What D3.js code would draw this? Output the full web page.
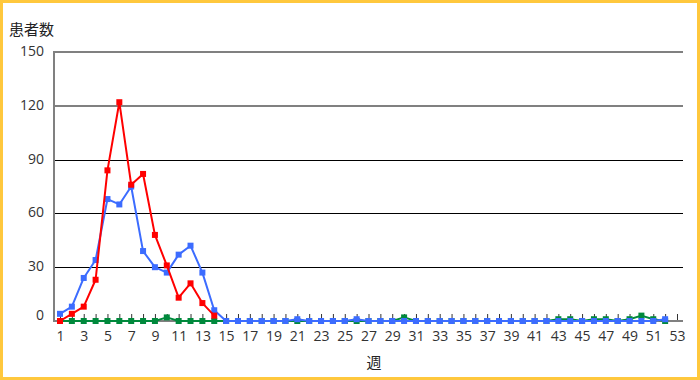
<!DOCTYPE html>
<html>
<head>
<meta charset="utf-8">
<script src="https://cdn.jsdelivr.net/npm/d3@7"></script>
<style>
	body { margin: 0; background: #fff; }
	text { font-family: "Open Sans", "Noto Sans CJK JP", sans-serif; fill: #333; }
	.jp { font-family: "Noto Sans CJK JP", sans-serif; font-size: 15px; fill: #222; }
</style>
</head>
<body>
<div id="chart"></div>
<script>

// Weeks (categories) and y-axis ticks.
const weeks = d3.range(1, 54);
const yTicks = [0, 30, 60, 90, 120, 150];

// Patients per week.
const redValues = [0, 4, 8, 23, 84, 122, 76, 82, 48, 31, 13, 21, 10, 3];
const blueValues = [4, 8, 24, 34, 68, 65, 75, 39, 30, 27, 37, 42, 27, 6,
	0, 0, 0, 0, 0, 0, 1, 0, 0, 0, 0, 1, 0, 0, 0, 0,
	0, 0, 0, 0, 0, 0, 0, 0, 0, 0,
	0, 0, 0, 0, 0, 0, 0, 0, 0, 0, 0, 1];
const greenValues = [0, 0, 0, 0, 0, 0, 0, 0, 0, 2, 0, 0, 0, 0,
	0, 0, 0, 0, 0, 0, 0, 0, 0, 0, 0, 0, 0, 0, 0, 2,
	0, 0, 0, 0, 0, 0, 0, 0, 0, 0,
	0, 0, 1, 1, 0, 1, 1, 0, 1, 3, 1, 0];

// Drawing order: green at the bottom, red on top.
const series = [
	{ name: "green", color: "#00893c", values: greenValues },
	{ name: "blue", color: "#3c6cff", values: blueValues },
	{ name: "red", color: "#ff0000", values: redValues }
];

const W = 700, H = 380;
const plot = { left: 54, right: 683, top: 52, bottom: 321 };

let svg = d3.select("#chart").append("svg")
	.attr("width", W)
	.attr("height", H);

// Yellow frame
svg.append("rect")
	.attr("x", 1.5).attr("y", 1.5)
	.attr("width", W - 3).attr("height", H - 3)
	.attr("fill", "#fff")
	.attr("stroke", "#ffc83d")
	.attr("stroke-width", 3);

// Scales
let x = d3.scalePoint()
	.domain(weeks)
	.range([60, 677]);

let y = d3.scaleLinear()
	.domain([0, 150])
	.range([plot.bottom, plot.top]);

// Horizontal grid lines (top two look soft grey in the original)
svg.append("g")
	.selectAll("line")
	.data(yTicks.filter(d => d > 0))
	.join("line")
	.attr("x1", plot.left).attr("x2", plot.right)
	.attr("y1", d => d >= 120 ? Math.round(y(d)) : Math.round(y(d)) + 0.5)
	.attr("y2", d => d >= 120 ? Math.round(y(d)) : Math.round(y(d)) + 0.5)
	.attr("stroke", d => d >= 120 ? "#808080" : "#000")
	.attr("stroke-width", d => d >= 120 ? 2 : 1);

// y tick labels
svg.append("g")
	.selectAll("text")
	.data(yTicks)
	.join("text")
	.attr("x", 44)
	.attr("y", d => Math.min(Math.max(y(d) - 1, 46), 315))
	.attr("dy", "0.35em")
	.attr("text-anchor", "end")
	.style("font-size", "14px")
	.text(d => d);

// x-axis: ticks at every week, labels on odd weeks
let xAxis = d3.axisBottom(x)
	.tickSize(-7)
	.tickPadding(10)
	.tickFormat(d => d % 2 ? d : "");

let xAxisEl = svg.append("g")
	.attr("transform", "translate(0," + plot.bottom + ")")
	.call(xAxis);
xAxisEl.select(".domain").remove();
xAxisEl.selectAll(".tick line").attr("stroke", "#333");
xAxisEl.selectAll(".tick text")
	.style("font-size", "14px")
	.attr("fill", "#333");

// axis lines
svg.append("line")
	.attr("x1", plot.left).attr("x2", plot.right)
	.attr("y1", plot.bottom).attr("y2", plot.bottom)
	.attr("stroke", "#808080").attr("stroke-width", 2);
svg.append("line")
	.attr("x1", plot.left).attr("x2", plot.left)
	.attr("y1", plot.top - 1).attr("y2", plot.bottom + 1)
	.attr("stroke", "#808080").attr("stroke-width", 2);

// Series lines and square markers
let line = d3.line()
	.x(d => x(d.week))
	.y(d => y(d.value));

series.forEach(function(s) {
	let pts = s.values.map((v, i) => ({ week: weeks[i], value: v }));
	let g = svg.append("g").attr("class", "series " + s.name);
	g.append("path")
		.datum(pts)
		.attr("fill", "none")
		.attr("stroke", s.color)
		.attr("stroke-width", 2)
		.attr("stroke-linejoin", "round")
		.attr("d", line);
	g.selectAll("rect")
		.data(pts)
		.join("rect")
		.attr("x", d => x(d.week) - 3)
		.attr("y", d => y(d.value) - 3)
		.attr("width", 6)
		.attr("height", 6)
		.attr("fill", s.color);
});

// Titles
svg.append("text")
	.attr("class", "jp")
	.attr("x", 9)
	.attr("y", 35)
	.text("患者数");
svg.append("text")
	.attr("class", "jp")
	.attr("x", 374)
	.attr("y", 368)
	.attr("text-anchor", "middle")
	.text("週");

</script>
</body>
</html>
